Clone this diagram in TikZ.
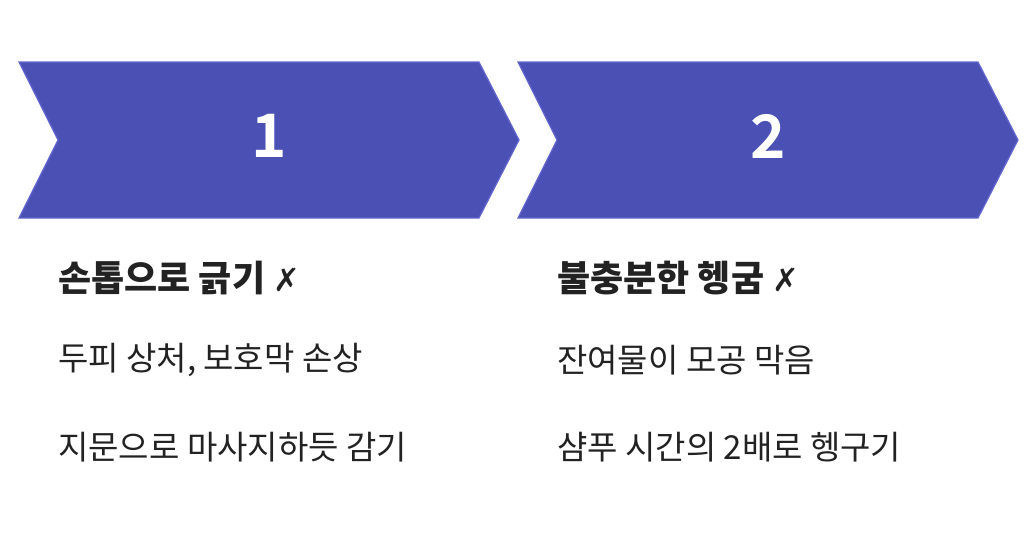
\documentclass[tikz,border=0pt]{standalone}
\usepackage{fontspec}
\setmainfont{Noto Sans CJK KR}
\newfontfamily\krb{Noto Sans CJK KR Black}
\newfontfamily\krh{Noto Sans CJK KR Bold}
\newfontfamily\dv{DejaVu Sans}
\definecolor{chev}{HTML}{4A50B4}
\definecolor{chevedge}{HTML}{6468D0}
\definecolor{txt}{HTML}{222222}
\tikzset{chevron/.style={fill=chev,draw=chevedge,line width=1.2pt,line join=miter},
 num/.style={text=white,font=\krh\fontsize{60}{64}\selectfont},
 head/.style={anchor=west,text=txt,font=\krb\fontsize{36}{40}\selectfont,inner sep=0},
 body/.style={anchor=west,text=txt,font=\fontsize{33}{38}\selectfont,inner sep=0}}
\begin{document}
\begin{tikzpicture}[x=1pt,y=-1pt]
\useasboundingbox (0,0) rectangle (1032,554);
\draw[chevron] (19,62) -- (479,62) -- (519,140) -- (479,218) -- (19,218) -- (58,140) -- cycle;
\draw[chevron] (518,62) -- (978,62) -- (1018,140) -- (978,218) -- (518,218) -- (557,140) -- cycle;
\node[num] (n1) at (269,136) {1};
\node[num] (n2) at (768,136) {2};
\node[head] (h1) at (58,278) {손톱으로 긁기 {\dv\fontsize{32}{36}\selectfont ✗}};
\node[body] (a1) at (58,360) {두피 상처, 보호막 손상};
\node[body] (b1) at (58,447) {지문으로 마사지하듯 감기};
\node[head] (h2) at (557,278) {불충분한 헹굼 {\dv\fontsize{32}{36}\selectfont ✗}};
\node[body] (a2) at (557,360) {잔여물이 모공 막음};
\node[body] (b2) at (557,447) {샴푸 시간의 2배로 헹구기};
\end{tikzpicture}
\end{document}
